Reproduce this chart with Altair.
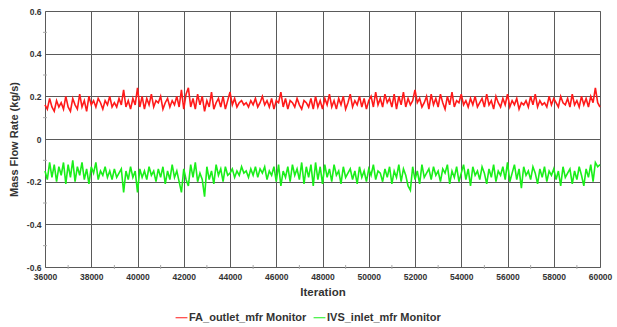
import altair as alt
import pandas as pd

x_start = 36000
x_step = 100

red_vals = [
    0.16,0.14,0.19,0.15,0.13,0.18,0.15,0.17,0.14,0.20,
    0.15,0.13,0.19,0.16,0.14,0.21,0.15,0.18,0.13,0.20,
    0.16,0.18,0.15,0.19,0.17,0.14,0.18,0.16,0.20,0.15,
    0.17,0.15,0.19,0.16,0.23,0.15,0.18,0.14,0.19,0.16,
    0.24,0.15,0.20,0.14,0.19,0.16,0.21,0.15,0.18,0.17,
    0.20,0.14,0.17,0.19,0.15,0.18,0.16,0.20,0.15,0.23,
    0.14,0.21,0.24,0.15,0.19,0.14,0.21,0.16,0.20,0.13,
    0.18,0.15,0.22,0.14,0.17,0.19,0.15,0.20,0.14,0.18,
    0.22,0.16,0.19,0.15,0.17,0.18,0.16,0.17,0.15,0.18,
    0.16,0.19,0.15,0.17,0.20,0.16,0.18,0.15,0.19,0.14,
    0.18,0.17,0.22,0.15,0.19,0.14,0.18,0.17,0.15,0.19,
    0.16,0.14,0.18,0.17,0.15,0.19,0.14,0.20,0.15,0.18,
    0.14,0.19,0.16,0.21,0.15,0.18,0.14,0.19,0.16,0.20,
    0.14,0.17,0.21,0.15,0.18,0.16,0.20,0.15,0.19,0.14,
    0.18,0.20,0.15,0.22,0.16,0.19,0.15,0.21,0.17,0.19,
    0.15,0.21,0.14,0.20,0.16,0.22,0.15,0.19,0.16,0.18,
    0.23,0.17,0.19,0.15,0.17,0.20,0.14,0.21,0.16,0.19,
    0.15,0.21,0.17,0.14,0.20,0.16,0.22,0.15,0.18,0.17,
    0.21,0.16,0.18,0.15,0.19,0.16,0.20,0.15,0.17,0.19,
    0.15,0.21,0.16,0.18,0.14,0.20,0.17,0.15,0.19,0.16,
    0.21,0.15,0.18,0.16,0.19,0.14,0.17,0.16,0.18,0.15,
    0.20,0.16,0.21,0.15,0.18,0.16,0.17,0.15,0.20,0.16,
    0.19,0.17,0.15,0.20,0.17,0.16,0.19,0.15,0.21,0.16,
    0.18,0.15,0.20,0.16,0.19,0.15,0.20,0.17,0.24,0.17,
    0.15,
]

green_vals = [
    -0.15,-0.19,-0.11,-0.18,-0.12,-0.20,-0.13,-0.17,-0.11,-0.21,
    -0.12,-0.18,-0.10,-0.20,-0.13,-0.17,-0.11,-0.19,-0.14,-0.21,
    -0.13,-0.16,-0.11,-0.19,-0.15,-0.17,-0.13,-0.18,-0.15,-0.19,
    -0.14,-0.18,-0.16,-0.14,-0.25,-0.15,-0.19,-0.13,-0.18,-0.15,
    -0.25,-0.14,-0.18,-0.15,-0.19,-0.13,-0.17,-0.15,-0.20,-0.14,
    -0.18,-0.13,-0.21,-0.15,-0.19,-0.12,-0.18,-0.15,-0.20,-0.25,
    -0.14,-0.19,-0.22,-0.12,-0.18,-0.11,-0.20,-0.16,-0.19,-0.27,
    -0.13,-0.19,-0.15,-0.21,-0.12,-0.17,-0.14,-0.20,-0.13,-0.17,
    -0.16,-0.14,-0.18,-0.15,-0.17,-0.13,-0.16,-0.15,-0.18,-0.14,
    -0.17,-0.13,-0.18,-0.14,-0.16,-0.13,-0.19,-0.15,-0.17,-0.13,
    -0.20,-0.12,-0.22,-0.15,-0.18,-0.13,-0.20,-0.12,-0.17,-0.14,
    -0.19,-0.11,-0.21,-0.13,-0.18,-0.12,-0.22,-0.11,-0.19,-0.13,
    -0.21,-0.12,-0.18,-0.14,-0.20,-0.12,-0.17,-0.15,-0.21,-0.13,
    -0.18,-0.16,-0.14,-0.19,-0.15,-0.21,-0.13,-0.18,-0.15,-0.20,
    -0.14,-0.17,-0.12,-0.19,-0.15,-0.16,-0.20,-0.14,-0.18,-0.13,
    -0.21,-0.15,-0.18,-0.12,-0.20,-0.14,-0.17,-0.22,-0.24,-0.13,
    -0.19,-0.15,-0.21,-0.12,-0.18,-0.16,-0.14,-0.19,-0.13,-0.17,
    -0.15,-0.20,-0.14,-0.16,-0.12,-0.21,-0.15,-0.18,-0.13,-0.20,
    -0.16,-0.12,-0.19,-0.14,-0.22,-0.13,-0.17,-0.15,-0.19,-0.13,
    -0.16,-0.21,-0.14,-0.18,-0.12,-0.20,-0.15,-0.17,-0.13,-0.19,
    -0.11,-0.20,-0.16,-0.12,-0.19,-0.14,-0.23,-0.13,-0.17,-0.15,
    -0.19,-0.13,-0.16,-0.21,-0.14,-0.18,-0.13,-0.20,-0.15,-0.17,
    -0.14,-0.19,-0.15,-0.22,-0.13,-0.18,-0.16,-0.14,-0.21,-0.15,
    -0.19,-0.13,-0.17,-0.22,-0.14,-0.18,-0.12,-0.20,-0.11,-0.13,
    -0.12,
]

series_names = ["FA_outlet_mfr Monitor", "IVS_inlet_mfr Monitor"]
series_colors = ["#ff1a1a", "#1aee1a"]
x_ticks = list(range(36000, 60001, 2000))
x_minor = list(range(37000, 60000, 2000))
y_ticks = [-0.6, -0.4, -0.2, 0.0, 0.2, 0.4, 0.6]
y_minor = [-0.5, -0.3, -0.1, 0.1, 0.3, 0.5]

rows = []
for i, v in enumerate(red_vals):
    rows.append({"Iteration": x_start + i * x_step, "value": v, "series": series_names[0]})
for i, v in enumerate(green_vals):
    rows.append({"Iteration": x_start + i * x_step, "value": v, "series": series_names[1]})
df = pd.DataFrame(rows)
xminor_df = pd.DataFrame({"m": x_minor})
yminor_df = pd.DataFrame({"m": y_minor})

FONT = "Liberation Sans"

xscale = alt.Scale(domain=[36000, 60000], nice=False, zero=False)
yscale = alt.Scale(domain=[-0.6, 0.6], nice=False, zero=False)

lines = alt.Chart(df).mark_line(strokeWidth=1.6).encode(
    x=alt.X("Iteration:Q", scale=xscale,
            axis=alt.Axis(values=x_ticks, title="Iteration", format="d",
                          labelFont=FONT, labelFontWeight="bold", labelFontSize=8.5,
                          labelColor="#333333", titleFont=FONT, titleFontWeight="bold",
                          titleFontSize=11.5, titleColor="#333333", titlePadding=6,
                          tickSize=0, labelPadding=5, domain=False,
                          gridColor="#5a5a5a", gridWidth=1, gridOpacity=1,
                          labelFlush=False)),
    y=alt.Y("value:Q", scale=yscale,
            axis=alt.Axis(values=y_ticks, title="Mass Flow Rate (kg/s)",
                          labelExpr="toString(round(datum.value*10)/10)",
                          labelFont=FONT, labelFontWeight="bold", labelFontSize=8.5,
                          labelColor="#333333", titleFont=FONT, titleFontWeight="bold",
                          titleFontSize=11, titleColor="#333333", titlePadding=7,
                          tickSize=0, labelPadding=4, domain=False,
                          gridColor="#5a5a5a", gridWidth=1, gridOpacity=1)),
    color=alt.Color("series:N",
                    scale=alt.Scale(domain=series_names, range=series_colors),
                    legend=alt.Legend(title=None, orient="none", direction="horizontal",
                                      legendX=130, legendY=300, symbolType="stroke",
                                      symbolSize=140, symbolStrokeWidth=1,
                                      labelFont=FONT, labelFontWeight="bold",
                                      labelFontSize=11, labelColor="#333333",
                                      columnPadding=4, symbolOffset=0, labelOffset=1)),
)

xminor = alt.Chart(xminor_df).mark_rule(color="#aaaaaa", strokeWidth=1).encode(
    x=alt.X("m:Q", scale=xscale),
    y=alt.value(254),
    y2=alt.value(258),
)

yminor = alt.Chart(yminor_df).mark_rule(color="#aaaaaa", strokeWidth=1).encode(
    y=alt.Y("m:Q", scale=yscale),
    x=alt.value(-2),
    x2=alt.value(2),
)

chart = alt.layer(lines, xminor, yminor).properties(
    width=555, height=256,
    autosize=alt.AutoSizeParams(type="none"),
    padding={"left": 45, "top": 11, "right": 17, "bottom": 60},
    background="white",
).configure_view(stroke="#888888", strokeWidth=1)

chart.save("out.html", embed_options={"renderer": "svg", "actions": False})
